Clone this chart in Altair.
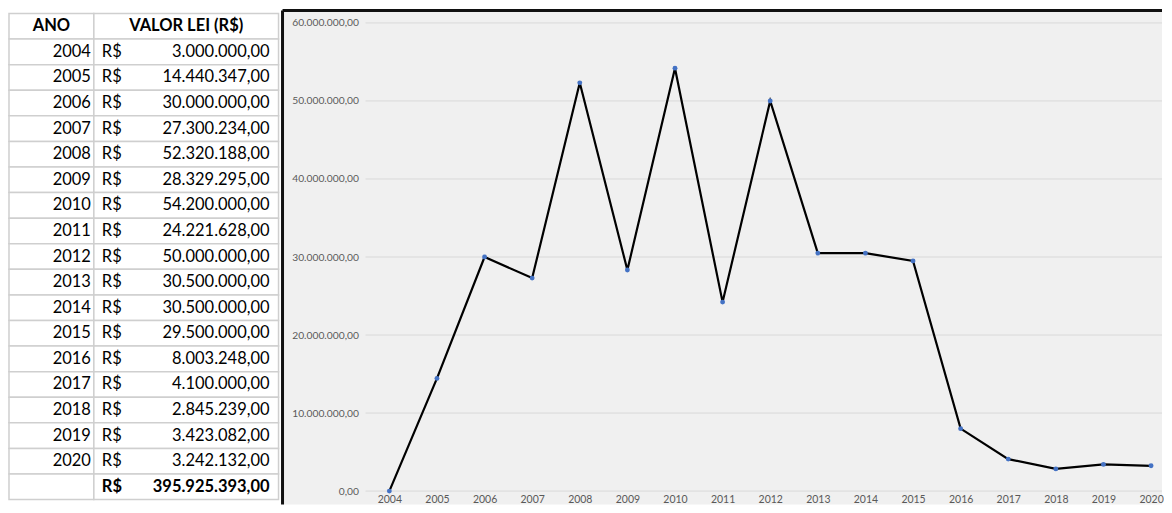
import altair as alt
import pandas as pd

# ---------------- data ----------------
years = [2004, 2005, 2006, 2007, 2008, 2009, 2010, 2011, 2012,
         2013, 2014, 2015, 2016, 2017, 2018, 2019, 2020]
table_values = [3000000, 14440347, 30000000, 27300234, 52320188, 28329295,
                54200000, 24221628, 50000000, 30500000, 30500000, 29500000,
                8003248, 4100000, 2845239, 3423082, 3242132]
# values as plotted in the chart (2004 is drawn at 0,00)
chart_values = [0, 14440347, 30000000, 27300234, 52320188, 28329295,
                54200000, 24221628, 50000000, 30500000, 30500000, 29500000,
                8003248, 4100000, 2845239, 3423082, 3242132]
y_ticks = [0, 10000000, 20000000, 30000000, 40000000, 50000000, 60000000]
header_labels = ["ANO", "VALOR LEI (R$)"]
currency = "R$"


def brl(v):
    s = f"{v:,.2f}"
    return s.replace(",", "_").replace(".", ",").replace("_", ".")


FONT = "Lato"
N_ROWS = len(years) + 2
COL_EDGES = [0, 85, 270]
TABLE_W = 270
ROW_H = 25.63
TABLE_H = round(N_ROWS * ROW_H + 3)

# ---------------- table ----------------
cells = pd.DataFrame(
    [{"row": r, "x0": COL_EDGES[c], "x1": COL_EDGES[c + 1]}
     for r in range(N_ROWS) for c in range(2)]
)
head_df = pd.DataFrame({
    "row": [0, 0],
    "text": header_labels,
    "x": [(COL_EDGES[0] + COL_EDGES[1]) / 2, (COL_EDGES[1] + COL_EDGES[2]) / 2],
})
year_df = pd.DataFrame({"row": list(range(1, len(years) + 1)),
                        "text": [str(y) for y in years],
                        "x": COL_EDGES[1] - 3})
rs_df = pd.DataFrame({"row": list(range(1, len(years) + 1)),
                      "text": currency, "x": COL_EDGES[1] + 8})
val_df = pd.DataFrame({"row": list(range(1, len(years) + 1)),
                       "text": [brl(v) for v in table_values],
                       "x": COL_EDGES[2] - 9})
tot_rs_df = pd.DataFrame({"row": [N_ROWS - 1], "text": [currency], "x": [COL_EDGES[1] + 8]})
tot_val_df = pd.DataFrame({"row": [N_ROWS - 1], "text": [brl(sum(table_values))],
                           "x": [COL_EDGES[2] - 9]})

tx_scale = alt.Scale(domain=[0, TABLE_W], nice=False, zero=False)
ty_scale = alt.Scale(type="band", domain=list(range(N_ROWS)), paddingInner=0,
                     paddingOuter=0.06, align=1)
ty = alt.Y("row:O", scale=ty_scale, axis=None)

cell_layer = alt.Chart(cells).mark_rect(fill="white", stroke="#cfcfcf", strokeWidth=1.5).encode(
    x=alt.X("x0:Q", scale=tx_scale, axis=None), x2="x1:Q", y=ty
)


def txt(df, align, bold=False):
    return alt.Chart(df).mark_text(
        align=align, baseline="middle", font=FONT, fontSize=16.5,
        fontWeight="bold" if bold else "normal", color="black"
    ).encode(x=alt.X("x:Q", scale=tx_scale, axis=None), y=ty, text="text:N")


table = alt.layer(
    cell_layer,
    txt(head_df, "center", True),
    txt(year_df, "right"),
    txt(rs_df, "left"),
    txt(val_df, "right"),
    txt(tot_rs_df, "left", True),
    txt(tot_val_df, "right", True),
).properties(width=TABLE_W, height=TABLE_H, view=alt.ViewBackground(stroke=None))

# ---------------- line chart ----------------
PX_PER_YEAR = 47.69
LINE_W = 881
XMIN = 2004 - 107 / PX_PER_YEAR
XMAX = XMIN + LINE_W / PX_PER_YEAR
PX_PER_M = 7.8167
LINE_H = 495
YMAX = 61.6e6
YMIN = YMAX - LINE_H / PX_PER_M * 1e6

xs = alt.Scale(domain=[XMIN, XMAX], nice=False, zero=False)
ys = alt.Scale(domain=[YMIN, YMAX], nice=False, zero=False)

x_axis = alt.Axis(values=years, format="d", orient="bottom", offset=-5, labelPadding=0,
                  ticks=False, domain=False, grid=False, title=None, labelFont=FONT,
                  labelFontSize=10.5, labelColor="#595959", labelBaseline="middle")
y_axis = alt.Axis(values=y_ticks, orient="left", offset=-76, labelPadding=0, ticks=False,
                  domain=False, grid=False, title=None, labelFont=FONT, labelFontSize=10.3,
                  labelColor="#595959",
                  labelExpr="replace(replace(replace(format(datum.value, ',.2f'), regexp(',', 'g'), '_'), '.', ','), regexp('_', 'g'), '.')")

line_df = pd.DataFrame({"ano": years, "valor": chart_values})
grid_df = pd.DataFrame({"v": y_ticks, "x0": years[0] - 0.5, "x1": XMAX})
border_df = pd.DataFrame({"x0": [XMIN, XMIN], "x1": [XMIN, XMAX],
                          "y0": [YMIN, YMAX], "y1": [YMAX, YMAX]})

grid = alt.Chart(grid_df).mark_rule(color="#d9d9d9", strokeWidth=1).encode(
    x=alt.X("x0:Q", scale=xs, axis=x_axis), x2="x1:Q",
    y=alt.Y("v:Q", scale=ys, axis=y_axis),
)
line = alt.Chart(line_df).mark_line(color="black", strokeWidth=2.2).encode(
    x=alt.X("ano:Q", scale=xs, axis=x_axis), y=alt.Y("valor:Q", scale=ys, axis=y_axis)
)
pts = alt.Chart(line_df).mark_circle(color="#4472c4", size=24, opacity=1).encode(
    x=alt.X("ano:Q", scale=xs, axis=x_axis), y=alt.Y("valor:Q", scale=ys, axis=y_axis)
)
border = alt.Chart(border_df).mark_rule(color="#111111", strokeWidth=3).encode(
    x=alt.X("x0:Q", scale=xs, axis=x_axis), x2="x1:Q",
    y=alt.Y("y0:Q", scale=ys, axis=y_axis), y2="y1:Q",
)

plot = alt.layer(grid, line, pts, border).properties(
    width=LINE_W, height=LINE_H,
    view=alt.ViewBackground(fill="#f0f0f0", stroke=None),
)

chart = alt.hconcat(table, plot, spacing=1).properties(
    padding={"left": 0, "top": 0, "right": 0, "bottom": 0}, background="white"
)

chart.save("out.html", embed_options={"renderer": "svg", "actions": False})
